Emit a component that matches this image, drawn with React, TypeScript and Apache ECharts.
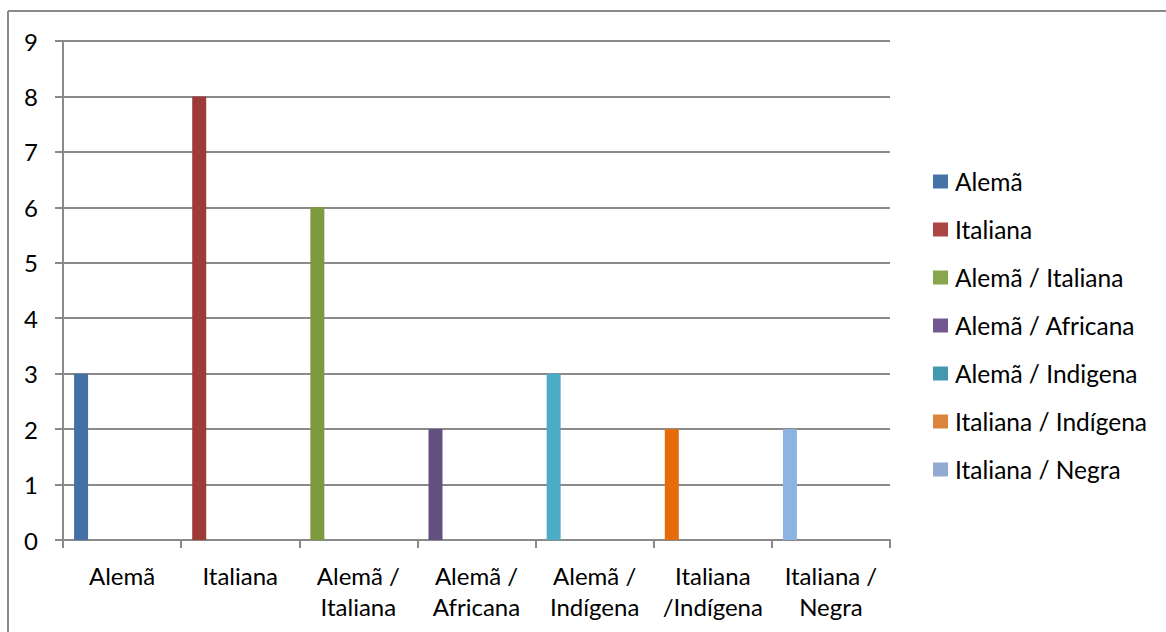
import React, { useEffect, useRef } from "react";
import * as echarts from "echarts";

// Categories along the x axis (line breaks as shown under each group)
const categories: string[] = [
  "Alemã",
  "Italiana",
  "Alemã /\nItaliana",
  "Alemã /\nAfricana",
  "Alemã /\nIndígena",
  "Italiana\n/Indígena",
  "Italiana /\nNegra",
];

// One series per ancestry group, each with a value only in its own category
const seriesNames: string[] = [
  "Alemã",
  "Italiana",
  "Alemã / Italiana",
  "Alemã / Africana",
  "Alemã / Indigena",
  "Italiana / Indígena",
  "Italiana / Negra",
];

const values: number[] = [3, 8, 6, 2, 3, 2, 2];

const barColors: string[] = [
  "#4470A5",
  "#9C3B38",
  "#7E9A3E",
  "#63507F",
  "#4BACC6",
  "#E46C0A",
  "#8DB3E2",
];

const legendColors: string[] = [
  "#4572A7",
  "#AA4643",
  "#89A54E",
  "#71588F",
  "#4198AF",
  "#DB843D",
  "#93A9CF",
];

const yTicks = { min: 0, max: 9, interval: 1 };

const FONT = "Lato, 'Open Sans', sans-serif";
const GRAY = "#8a8a8a";

export default function App() {
  const ref = useRef<HTMLDivElement>(null);

  useEffect(() => {
    if (!ref.current) return;
    const chart = echarts.init(ref.current, undefined, { renderer: "svg" });

    const barSeries = seriesNames.map((name, i) => ({
      name,
      type: "bar" as const,
      stack: "grupo",
      barWidth: 14,
      barGap: 0,
      itemStyle: { color: barColors[i] },
      data: categories.map((_, j) => (j === i ? values[i] : "-")),
    }));

    // Empty spacer that pushes the visible bars to the left of each category
    const spacer = {
      name: "spacer",
      type: "bar" as const,
      barWidth: 82,
      barGap: 0,
      silent: true,
      itemStyle: { color: "transparent" },
      data: categories.map(() => "-"),
    };

    chart.setOption({
      animation: false,
      backgroundColor: "#ffffff",
      textStyle: { fontFamily: FONT },
      grid: { left: 63, right: 276, top: 41, bottom: 92, containLabel: false },
      legend: {
        orient: "vertical",
        left: 928,
        top: 164,
        itemWidth: 15,
        itemHeight: 14,
        itemGap: 23,
        icon: "rect",
        textStyle: { fontFamily: FONT, fontSize: 24.5, color: "#000", lineHeight: 24, padding: [0, 0, 0, 2] },
        data: seriesNames.map((name, i) => ({ name, itemStyle: { color: legendColors[i] } })),
      },
      xAxis: {
        type: "category",
        data: categories,
        axisLine: { show: true, lineStyle: { color: GRAY, width: 2 } },
        axisTick: { show: true, length: 8, lineStyle: { color: GRAY, width: 2 } },
        axisLabel: {
          interval: 0,
          margin: 20,
          color: "#000",
          fontFamily: FONT,
          fontSize: 24,
          lineHeight: 31,
        },
      },
      yAxis: {
        type: "value",
        min: yTicks.min,
        max: yTicks.max,
        interval: yTicks.interval,
        axisLine: { show: true, lineStyle: { color: GRAY, width: 2 } },
        axisTick: { show: true, length: 8, lineStyle: { color: GRAY, width: 2 } },
        splitLine: { show: true, lineStyle: { color: GRAY, width: 2 } },
        axisLabel: { margin: 25, color: "#000", fontFamily: FONT, fontSize: 24 },
      },
      graphic: [
        {
          type: "line",
          shape: { x1: 8, y1: 11, x2: 1200, y2: 11 },
          style: { stroke: GRAY, lineWidth: 2 },
        },
        {
          type: "line",
          shape: { x1: 8, y1: 11, x2: 8, y2: 700 },
          style: { stroke: GRAY, lineWidth: 2 },
        },
      ],
      series: [...barSeries, spacer],
    });

    return () => chart.dispose();
  }, []);

  return (
    <div
      ref={ref}
      style={{ position: "fixed", left: 0, top: 0, width: 1166, height: 632 }}
    />
  );
}
